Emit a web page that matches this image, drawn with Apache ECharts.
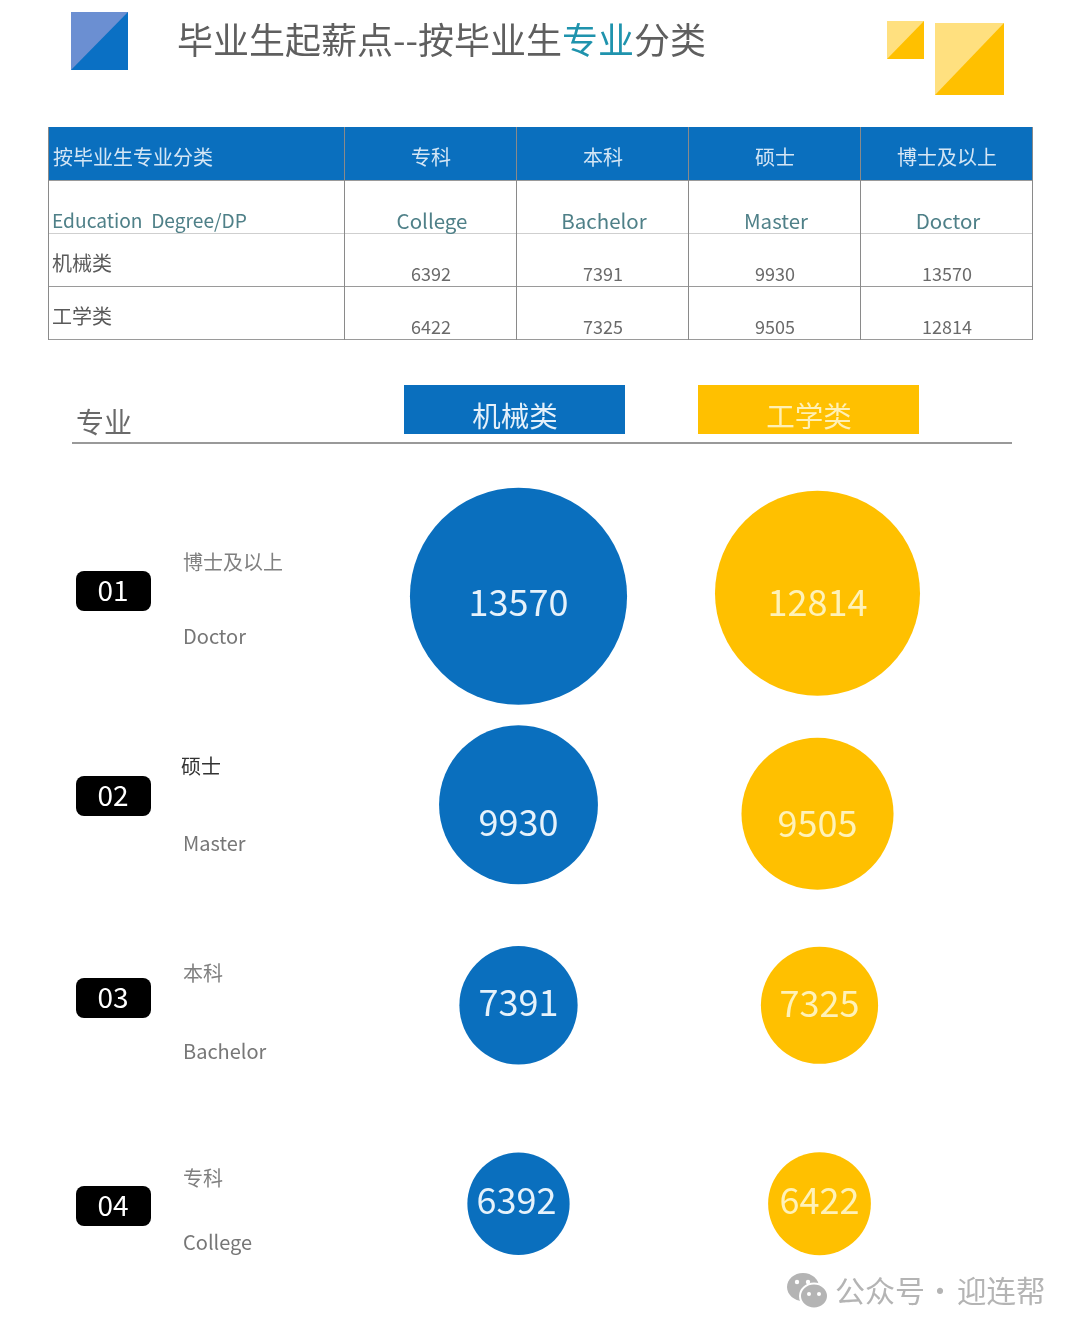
<!DOCTYPE html>
<html>
<head>
<meta charset="utf-8">
<style>
  html, body { margin: 0; padding: 0; background: #fff; }
  #chart { width: 1080px; height: 1334px; }
</style>
<script src="https://cdn.jsdelivr.net/npm/echarts@6/dist/echarts.min.js"></script>
</head>
<body>
<div id="chart"></div>
<script>
// values, college -> doctor
const degreesZh = ['专科', '本科', '硕士', '博士及以上']
const degreesEn = ['College', 'Bachelor', 'Master', 'Doctor']
const majors = ['机械类', '工学类']
const machineryValues = [6392, 7391, 9930, 13570]
const engineeringValues = [6422, 7325, 9505, 12814]

const BLUE = '#0a6fbe'
const YELLOW = '#ffc000'
const FONT = '"Noto Sans CJK SC", "Noto Sans", sans-serif'

// small per-row shifts, the rows in the original are not evenly spaced
const blueNudge = [[0, -1], [0, 3], [0, 5], [0, -1]]
const yellowNudge = [[2, -1], [2, 3], [0, 14], [0, -4]]
const blueLabelNudge = [[-2, -3], [0, -3], [0, 18], [0, 6]]
const yellowLabelNudge = [[0, -3], [0, -2], [0, 10], [0, 9]]

function text(str, x, y, size, fill, align) {
  return {
    type: 'text',
    silent: true,
    style: {
      text: str, x: x, y: y, fill: fill,
      font: size + 'px ' + FONT,
      align: align || 'left', verticalAlign: 'middle'
    }
  }
}

function rect(x, y, w, h, fill, r) {
  return { type: 'rect', silent: true, shape: { x: x, y: y, width: w, height: h, r: r || 0 }, style: { fill: fill } }
}

function line(x1, y1, x2, y2, color, width) {
  return {
    type: 'line', silent: true,
    shape: { x1: x1, y1: y1, x2: x2, y2: y2 },
    style: { stroke: color, lineWidth: width || 1 }
  }
}

// two-tone square: light upper-left, solid lower-right
function tile(x, y, w, h, light, solid) {
  return [
    rect(x, y, w, h, light),
    { type: 'polygon', silent: true, shape: { points: [[x + w, y], [x + w, y + h], [x, y + h]] }, style: { fill: solid } }
  ]
}

function buildHeader() {
  return [
    ...tile(71, 12, 57, 58, '#6b8fd2', '#0a70c4'),
    ...tile(887, 21, 37, 38, '#ffe07f', YELLOW),
    ...tile(935, 23, 69, 72, '#ffe07f', YELLOW),
    {
      type: 'text',
      silent: true,
      style: {
        text: '毕业生起薪点--按毕业生{k|专业}分类',
        x: 177, y: 40, fill: '#5f5f5f',
        font: '36px ' + FONT,
        verticalAlign: 'middle',
        rich: { k: { fill: '#1f93ad', font: '36px ' + FONT } }
      }
    }
  ]
}

function buildTable() {
  const colX = [48, 344, 516, 688, 860, 1032]
  const rowY = [127, 180, 233, 286, 339]
  const els = [rect(48, 127, 984, 54, BLUE)]
  for (let i = 1; i < rowY.length; i++) {
    els.push(line(48, rowY[i] + 0.5, 1032, rowY[i] + 0.5, i === 2 ? '#cfcfcf' : '#9a9a9a'))
  }
  colX.forEach(function (x) {
    els.push(line(x - 0.5 + 1, 127, x - 0.5 + 1, 340, '#8a8a8a'))
  })
  els.push(text('按毕业生专业分类', 53, 157, 20, '#d4e6f5'))
  els.push(text('Education  Degree/DP', 52, 221, 19.2, '#4f8088'))
  els.push(text(majors[0], 52, 263, 20, '#5a5a5a'))
  els.push(text(majors[1], 52, 316, 20, '#5a5a5a'))
  degreesZh.forEach(function (d, i) {
    const cx = (colX[i + 1] + colX[i + 2]) / 2 + 1
    els.push(text(d, cx, 157, 20, '#d4e6f5', 'center'))
    els.push(text(degreesEn[i], cx + 1, 221, 20.5, '#4f8088', 'center'))
    els.push(text(String(machineryValues[i]), cx, 274, 18, '#6a6a6a', 'center'))
    els.push(text(String(engineeringValues[i]), cx, 327, 18, '#6a6a6a', 'center'))
  })
  return els
}

function buildRowHead() {
  const els = [
    text('专业', 76, 422, 28, '#6a6a6a'),
    line(72, 443, 1012, 443, '#777', 1.5),
    rect(404, 385, 221, 49, BLUE),
    text(majors[0], 515, 416, 28.5, '#e4f0fa', 'center'),
    rect(698, 385, 221, 49, YELLOW),
    text(majors[1], 809, 416, 28.5, '#fff0b5', 'center')
  ]
  // doctor on top, so walk the degrees backwards
  const badgeY = [571, 776, 978, 1186]
  const zhY = [562, 766, 973, 1178]
  const enY = [637, 844, 1052, 1243]
  for (let i = 0; i < 4; i++) {
    const d = 3 - i
    els.push(rect(76, badgeY[i], 75, 40, '#000', 8))
    els.push(text('0' + (i + 1), 113, badgeY[i] + 19, 28, '#fff', 'center'))
    els.push(text(degreesZh[d], i === 1 ? 181 : 183, zhY[i], 20, i === 1 ? '#333' : '#808080'))
    els.push(text(degreesEn[d], 183, enY[i] - 1, 20, '#777'))
  }
  return els
}

function buildWatermark() {
  const c = '#b4b4b4'
  const els = [
    { type: 'ellipse', silent: true, shape: { cx: 803, cy: 1287, rx: 16, ry: 14 }, style: { fill: c } },
    { type: 'ellipse', silent: true, shape: { cx: 814, cy: 1296, rx: 14, ry: 12.5 }, style: { fill: c, stroke: '#fff', lineWidth: 2 } }
  ]
  const eyes = [[797, 1282, 2.2], [808, 1282, 2.2], [809, 1294, 2], [819, 1294, 2]]
  eyes.forEach(function (e) {
    els.push({ type: 'circle', silent: true, shape: { cx: e[0], cy: e[1], r: e[2] }, style: { fill: '#fff' } })
  })
  els.push(text('公众号', 835, 1291, 30, c))
  els.push(text('·', 940, 1291, 29, c, 'center'))
  els.push(text('迎连帮', 957, 1291, 29.5, c))
  return els
}

function bubbleSeries(name, values, color, labelColor, nudge, labelNudge) {
  return {
    name: name,
    type: 'scatter',
    silent: true,
    // diameter follows the value
    symbolSize: function (val) { return val[2] * 0.016 },
    itemStyle: { color: color, opacity: 1 },
    label: {
      show: true,
      position: 'inside',
      fontFamily: FONT,
      fontSize: 36,
      color: labelColor,
      formatter: function (p) { return p.value[2] }
    },
    data: values.map(function (v, i) {
      return {
        value: [name, degreesZh[i], v],
        symbolOffset: nudge[i],
        label: { offset: labelNudge[i] }
      }
    })
  }
}

const chart = echarts.init(document.getElementById('chart'), null, { renderer: 'canvas' })
chart.setOption({
  animation: false,
  backgroundColor: '#fff',
  grid: { left: 369, top: 496, width: 598, height: 810 },
  xAxis: { type: 'category', data: majors, show: false },
  yAxis: { type: 'category', data: degreesZh, show: false },
  series: [
    bubbleSeries(majors[0], machineryValues, BLUE, '#e6f2fb', blueNudge, blueLabelNudge),
    bubbleSeries(majors[1], engineeringValues, YELLOW, '#fff2b8', yellowNudge, yellowLabelNudge)
  ],
  graphic: { elements: [...buildHeader(), ...buildTable(), ...buildRowHead(), ...buildWatermark()] }
})
</script>
</body>
</html>
